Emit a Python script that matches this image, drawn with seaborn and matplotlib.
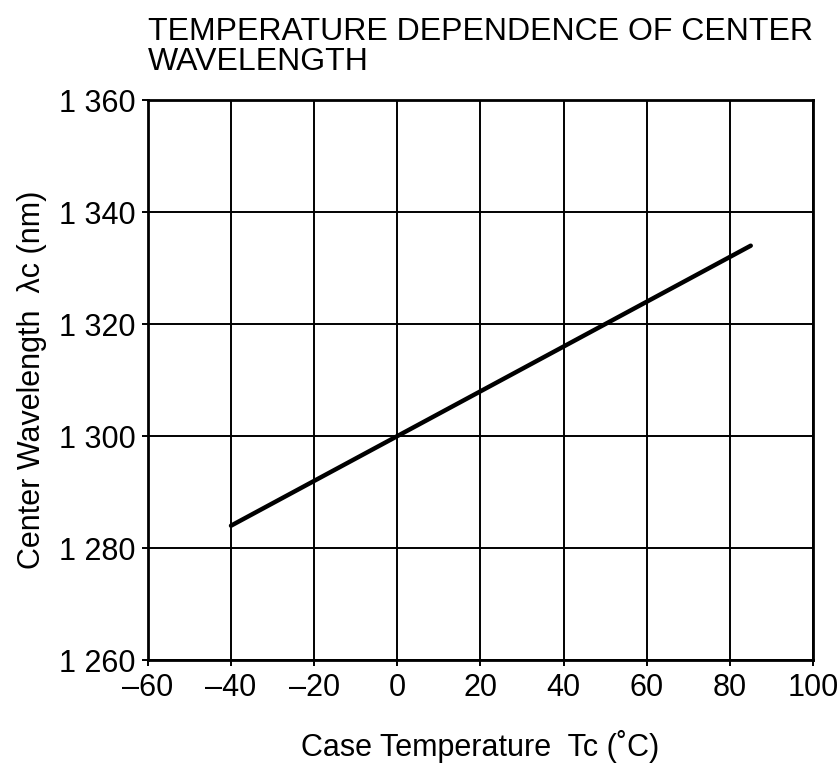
import matplotlib
matplotlib.use('Agg')
import matplotlib.pyplot as plt
import seaborn as sns
import pandas as pd

# values
case_temp = [-40, 0, 20, 40, 60, 85]
center_wl = [1284, 1300, 1308, 1316, 1324, 1334]
x_ticks = [-60, -40, -20, 0, 20, 40, 60, 80, 100]
y_ticks = [1260, 1280, 1300, 1320, 1340, 1360]

sns.set_theme(style='white')
plt.rcParams['font.family'] = ['Liberation Sans', 'DejaVu Sans']
plt.rcParams['text.color'] = 'black'
plt.rcParams['axes.labelcolor'] = 'black'
plt.rcParams['xtick.color'] = 'black'
plt.rcParams['ytick.color'] = 'black'

data = pd.DataFrame({'temp': case_temp, 'wl': center_wl})

fig = plt.figure(figsize=(8.4, 7.64), dpi=100)
ax = fig.add_axes([0.176, 0.136, 0.792, 0.733])

sns.lineplot(data=data, x='temp', y='wl', color='black', linewidth=3.2, ax=ax)

ax.set_xlim(-60, 100)
ax.set_ylim(1260, 1360)
ax.set_xticks(x_ticks)
ax.set_yticks(y_ticks)
ax.set_xticklabels([f'{t}'.replace('-', '\u2013') for t in x_ticks], fontsize=22)
ax.set_yticklabels([f'{t // 1000} {t % 1000:03d}' for t in y_ticks], fontsize=22)
ax.grid(True, color='black', linewidth=1.4)
ax.set_axisbelow(True)
for s in ax.spines.values():
    s.set_color('black')
    s.set_linewidth(2)
ax.tick_params(axis='both', length=4, width=1.4, color='black', pad=5,
               direction='out', bottom=True, left=True)

ax.set_xlabel('Case Temperature  Tc (\u02daC)', fontsize=22, labelpad=20)
ax.set_ylabel('Center Wavelength  \u03bbc (nm)', fontsize=22, labelpad=8)

fig.text(0.176, 0.978, 'TEMPERATURE DEPENDENCE OF CENTER\nWAVELENGTH',
         fontsize=23, ha='left', va='top', linespacing=1.0)

fig.savefig('out.png', dpi=100)
